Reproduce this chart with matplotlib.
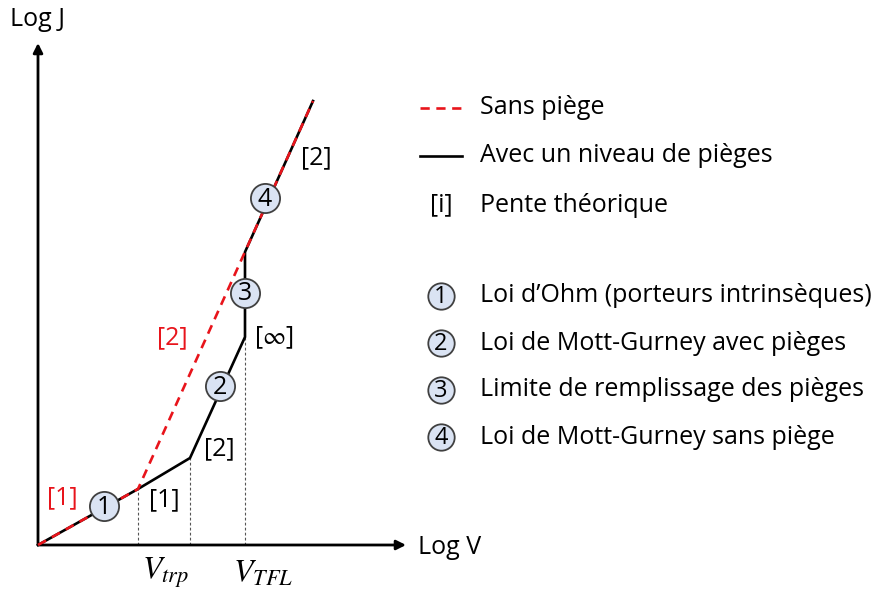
import matplotlib
matplotlib.use("Agg")
import matplotlib.pyplot as plt

plt.rcParams['font.family'] = ['Open Sans', 'DejaVu Sans']
plt.rcParams['mathtext.fontset'] = 'stix'

# ---- data (schematic units: log V, log J) ----
trap_logv = [0, 100, 152, 207, 207, 275]
trap_logj = [0, 56, 87, 208, 293, 444]
notrap_logv = [0, 100, 275]
notrap_logj = [0, 56, 444]
regime_logv = [66, 182, 207, 227]
regime_logj = [39, 159, 252, 347]
regime_ids = ['1', '2', '3', '4']
guide_logv = [100, 152, 207]
guide_logj = [56, 87, 208]
slope_labels = [('[1]', 24, 47, 'red'), ('[1]', 126, 45, 'black'),
                ('[2]', 181, 96, 'black'), ('[2]', 134, 207, 'red'),
                (r'[$\infty$]', 236, 207, 'black'), ('[2]', 278, 387, 'black')]
v_labels = [(r'$V_{trp}$', 128), (r'$V_{TFL}$', 225)]
legend_lines = ['Sans piège', 'Avec un niveau de pièges', 'Pente théorique']
legend_regimes = ['Loi d’Ohm (porteurs intrinsèques)', 'Loi de Mott-Gurney avec pièges',
                  'Limite de remplissage des pièges', 'Loi de Mott-Gurney sans piège']

W, H = 883, 595
fig = plt.figure(figsize=(W / 100, H / 100), dpi=100)
ax = fig.add_axes([0, 0, 1, 1])
ax.set_xlim(-38, W - 38)
ax.set_ylim(-(H - 545), 545)
ax.axis('off')

FS = 18
RED = '#e8141b'
circ_fc = '#dae3f3'
circ_ec = '#404040'

# axes arrows
ax.annotate('', xy=(0, 502), xytext=(0, 0),
            arrowprops=dict(arrowstyle='-|>', color='black', lw=2, mutation_scale=14, shrinkA=0, shrinkB=0))
ax.annotate('', xy=(368, 0), xytext=(0, 0),
            arrowprops=dict(arrowstyle='-|>', color='black', lw=2, mutation_scale=14, shrinkA=0, shrinkB=0))
ax.text(-28, 526, 'Log J', fontsize=FS, va='center', ha='left')
ax.text(380, -3, 'Log V', fontsize=FS, va='center', ha='left')

# guides
for gx, gy in zip(guide_logv, guide_logj):
    ax.plot([gx, gx], [0, gy], color='#555555', lw=0.8, ls=(0, (2.5, 2)))

# curves
ax.plot(trap_logv, trap_logj, color='black', lw=1.9, solid_joinstyle='miter', zorder=3)
ax.plot(notrap_logv, notrap_logj, color=RED, lw=1.9, ls=(0, (3.5, 2.5)), zorder=4)

# regime markers
for x, y, t in zip(regime_logv, regime_logj, regime_ids):
    ax.plot([x], [y], marker='o', ms=21, mfc=circ_fc, mec=circ_ec, mew=1.3, zorder=5)
    ax.text(x, y - 1, t, fontsize=FS, ha='center', va='center', zorder=6)

for t, x, y, c in slope_labels:
    ax.text(x, y, t, fontsize=FS, color='black' if c == 'black' else RED, ha='center', va='center')

for t, x in v_labels:
    ax.text(x, -28, t, fontsize=23, ha='center', va='center')

# legend
lx0, lx1, tx = 382, 424, 442
ly = [437, 389, 340]
ax.plot([lx0, lx1], [ly[0], ly[0]], color=RED, lw=1.9, ls=(0, (3.5, 2.5)))
ax.plot([lx0, lx1], [ly[1], ly[1]], color='black', lw=1.9)
ax.text(403, ly[2], '[i]', fontsize=FS, ha='center', va='center')
for y, t in zip(ly, legend_lines):
    ax.text(tx, y, t, fontsize=FS, ha='left', va='center')

ry = [249, 202, 155, 108]
for y, num, t in zip(ry, regime_ids, legend_regimes):
    ax.plot([403], [y], marker='o', ms=19, mfc=circ_fc, mec=circ_ec, mew=1.3)
    ax.text(403, y - 1, num, fontsize=FS - 1, ha='center', va='center')
    ax.text(tx, y, t, fontsize=FS, ha='left', va='center')

fig.savefig('out.png', dpi=100)
